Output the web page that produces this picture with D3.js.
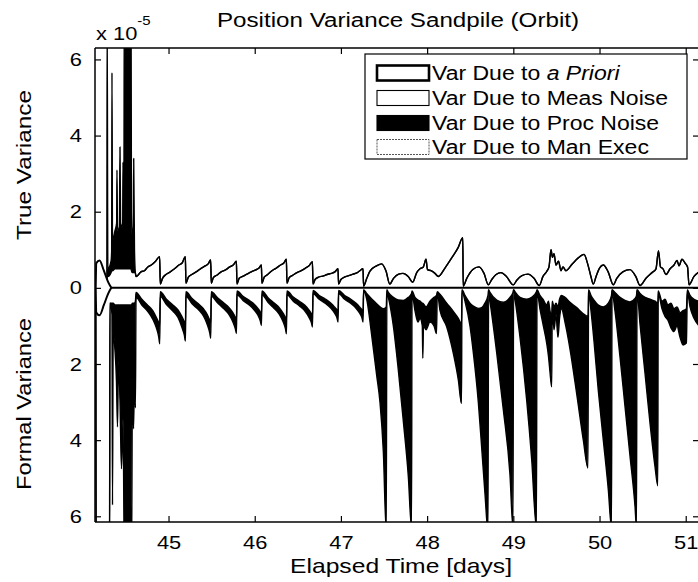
<!DOCTYPE html>
<html>
<head>
<meta charset="utf-8">
<script src="https://cdn.jsdelivr.net/npm/d3@7"></script>
<style>
  body { margin: 0; background: #fff; }
  svg { display: block; }
  text { font-family: "Liberation Sans", Arial, Helvetica, sans-serif; fill: #000; }
</style>
</head>
<body>
<div id="chart"></div>
<script>
// Position variance sandpile: true variance drawn up, formal variance drawn down (units of 1e-5)

const xTicks = [45, 46, 47, 48, 49, 50, 51];
const yTicks = [-6, -4, -2, 0, 2, 4, 6];
const legendLabels = ['Var Due to |a Priori|', 'Var Due to Meas Noise', 'Var Due to Proc Noise', 'Var Due to Man Exec'];

// a priori variance (same on both sides)
const aprioriTime = [44.155, 44.162, 44.200, 44.250, 44.300, 44.336];
const aprioriVar  = [0, 0.65, 0.72, 0.45, 0.15, 0];

// true variance, first half-day (proc noise spikes)
const trueEarlyTime = [44.150, 44.284, 44.288, 44.296, 44.333, 44.340, 44.344, 44.350, 44.379, 44.398, 44.402, 44.408, 44.430, 44.437, 44.444, 44.468, 44.472, 44.478, 44.483, 44.486, 44.565, 44.570, 44.578, 44.592, 44.596, 44.605, 44.615];
const trueEarlyMeas = [0, 0.05, 0.3, 0.3, 0.4, 0.45, 0.45, 0.45, 0.5, 0.5, 0.5, 0.5, 0.5, 0.5, 0.5, 0.5, 0.5, 0.5, 0.5, 0.5, 0.5, 0.45, 0.4, 0.4, 0.4, 0.4, 0.4];
const trueEarlyProc = [0, 0, 7, 0.2, 0.3, 0.5, 5.2, 0.8, 1.0, 1.2, 2.6, 1.0, 1.1, 3.2, 1.2, 1.1, 2.8, 1.2, 1.5, 7, 7, 1.5, 1.0, 1.2, 3.0, 0.6, 0];

// true variance, rest of the arc (meas noise outline)
const trueTime = [
  44.623, 44.640, 44.680, 44.720, 44.760, 44.800, 44.850, 44.897,
  44.904, 44.930, 44.970, 45.020, 45.070, 45.120, 45.160, 45.195,
  45.202, 45.230, 45.270, 45.320, 45.370, 45.420, 45.460, 45.489,
  45.496, 45.520, 45.560, 45.610, 45.660, 45.710, 45.750, 45.787,
  45.794, 45.820, 45.860, 45.910, 45.960, 46.010, 46.050, 46.077,
  46.084, 46.110, 46.150, 46.200, 46.250, 46.300, 46.340, 46.367,
  46.374, 46.400, 46.440, 46.490, 46.540, 46.590, 46.630, 46.669,
  46.676, 46.700, 46.740, 46.790, 46.840, 46.890, 46.930, 46.966,
  46.973, 47.000, 47.040, 47.090, 47.140, 47.190, 47.220, 47.256,
  47.263, 47.300, 47.337, 47.415, 47.473, 47.523, 47.567,
  47.610, 47.670, 47.720, 47.780, 47.833,
  47.879, 47.917, 47.956, 47.987, 48.004, 48.045, 48.091, 48.130, 48.207, 48.289, 48.358, 48.414,
  48.418, 48.460, 48.530, 48.602, 48.660, 48.710,
  48.750, 48.800, 48.857, 48.920, 49.000,
  49.040, 49.100, 49.170, 49.240, 49.301,
  49.344, 49.387, 49.414, 49.437, 49.454, 49.472, 49.495, 49.524, 49.553, 49.576, 49.611, 49.681, 49.750, 49.820, 49.860, 49.900, 49.928,
  49.960, 50.000, 50.044, 50.100, 50.160,
  50.200, 50.270, 50.353, 50.420, 50.470,
  50.539, 50.609, 50.655, 50.684, 50.707, 50.736, 50.771, 50.818, 50.864, 50.899, 50.922, 50.957, 50.992, 51.021, 51.038, 51.096, 51.154
];
const trueMeas = [
  0.30, 0.32, 0.42, 0.45, 0.55, 0.60, 0.70, 0.82,
  0.10, 0.25, 0.35, 0.42, 0.50, 0.60, 0.66, 0.82,
  0.12, 0.28, 0.35, 0.42, 0.50, 0.57, 0.63, 0.73,
  0.12, 0.27, 0.33, 0.42, 0.47, 0.55, 0.60, 0.70,
  0.10, 0.25, 0.30, 0.36, 0.42, 0.47, 0.52, 0.60,
  0.12, 0.28, 0.35, 0.45, 0.52, 0.60, 0.66, 0.75,
  0.12, 0.27, 0.33, 0.40, 0.45, 0.52, 0.58, 0.69,
  0.10, 0.22, 0.28, 0.31, 0.35, 0.38, 0.42, 0.50,
  0.10, 0.22, 0.28, 0.32, 0.36, 0.40, 0.45, 0.50,
  0.05, 0.25, 0.44, 0.58, 0.63, 0.44, 0.10,
  0.25, 0.36, 0.38, 0.30, 0.15,
  0.40, 0.50, 0.55, 0.75, 0.48, 0.45, 0.38, 0.30, 0.52, 0.80, 1.05, 1.32,
  0.05, 0.25, 0.48, 0.55, 0.38, 0.08,
  0.22, 0.35, 0.40, 0.30, 0.08,
  0.20, 0.32, 0.36, 0.25, 0.06,
  0.30, 0.43, 0.55, 1.00, 0.80, 0.90, 0.60, 0.70, 0.45, 0.55, 0.45, 0.62, 0.78, 0.88, 0.65, 0.30, 0.10,
  0.30, 0.52, 0.60, 0.42, 0.08,
  0.25, 0.42, 0.48, 0.30, 0.06,
  0.25, 0.40, 0.50, 0.97, 0.55, 0.50, 0.35, 0.50, 0.60, 0.72, 0.58, 0.75, 0.65, 0.55, 0.08, 0.30, 0.42
];

// formal variance: meas noise layer and proc noise layer on the same time grid
const formalTime = [
  44.150, 44.156, 44.160, 44.316, 44.320, 44.333, 44.344, 44.350, 44.358, 44.379, 44.396, 44.408, 44.420, 44.437, 44.454, 44.472, 44.489, 44.570, 44.582, 44.594, 44.605, 44.616,
  44.623, 44.690, 44.760, 44.817, 44.859, 44.887, 44.898,
  44.904, 44.976, 45.050, 45.110, 45.154, 45.184, 45.196,
  45.202, 45.273, 45.346, 45.405, 45.449, 45.478, 45.490,
  45.496, 45.568, 45.642, 45.702, 45.746, 45.776, 45.788,
  45.794, 45.864, 45.936, 45.994, 46.037, 46.066, 46.078,
  46.084, 46.154, 46.226, 46.284, 46.327, 46.356, 46.368,
  46.374, 46.447, 46.522, 46.582, 46.628, 46.658, 46.670,
  46.676, 46.748, 46.822, 46.881, 46.925, 46.955, 46.967,
  46.973, 47.043, 47.115, 47.173, 47.216, 47.245, 47.257,
  47.263, 47.299, 47.360, 47.415, 47.453, 47.492, 47.526,
  47.533, 47.550, 47.608, 47.666, 47.724, 47.782, 47.819,
  47.825, 47.859, 47.894, 47.917, 47.944, 47.950, 47.958, 47.987, 48.033, 48.080, 48.109, 48.118, 48.149, 48.227, 48.304, 48.362, 48.399,
  48.404, 48.439, 48.497, 48.536, 48.594, 48.633, 48.671, 48.706,
  48.713, 48.729, 48.807, 48.884, 48.961, 48.996,
  49.003, 49.019, 49.077, 49.155, 49.213, 49.268,
  49.275, 49.309, 49.344, 49.387, 49.408, 49.425, 49.445,
  49.452, 49.472, 49.495, 49.518, 49.536, 49.559, 49.599, 49.657, 49.735, 49.812, 49.866,
  49.873, 49.901, 49.936, 49.986, 50.044, 50.102, 50.139,
  50.145, 50.179, 50.237, 50.295, 50.353, 50.412, 50.429,
  50.435, 50.470, 50.528, 50.586, 50.644, 50.676,
  50.681, 50.725, 50.760, 50.794, 50.829, 50.864, 50.899, 50.934, 50.969, 51.008,
  51.019, 51.050, 51.096, 51.154
];
const formalMeas = [
  0, 0.6, 7, 7, 0.4, 0.4, 0.4, 0.4, 0.4, 0.45, 0.45, 0.45, 0.45, 0.45, 0.45, 0.45, 0.45, 0.45, 0.4, 0.4, 0.4, 0.35,
  0.12, 0.30, 0.46, 0.60, 0.78, 0.92, 1.00,
  0.10, 0.30, 0.45, 0.58, 0.75, 0.90, 0.97,
  0.10, 0.28, 0.42, 0.55, 0.70, 0.85, 0.92,
  0.10, 0.26, 0.40, 0.52, 0.65, 0.78, 0.85,
  0.08, 0.22, 0.33, 0.43, 0.54, 0.64, 0.70,
  0.08, 0.26, 0.40, 0.52, 0.66, 0.78, 0.86,
  0.08, 0.24, 0.36, 0.46, 0.58, 0.68, 0.74,
  0.07, 0.20, 0.30, 0.40, 0.50, 0.58, 0.64,
  0.07, 0.20, 0.30, 0.40, 0.50, 0.58, 0.64,
  0.05, 0.15, 0.30, 0.42, 0.50, 0.55, 0.50,
  0.05, 0.12, 0.25, 0.32, 0.33, 0.25, 0.15,
  0.08, 0.25, 0.32, 0.35, 0.40, 0.40, 0.42, 0.50, 0.35, 0.25, 0.20, 0.10, 0.17, 0.40, 0.62, 0.80, 0.95,
  0.05, 0.20, 0.40, 0.48, 0.54, 0.52, 0.40, 0.20,
  0.05, 0.12, 0.32, 0.38, 0.25, 0.12,
  0.05, 0.10, 0.25, 0.30, 0.25, 0.10,
  0.05, 0.20, 0.30, 0.45, 0.35, 0.60, 0.75,
  0.35, 0.50, 0.40, 0.50, 0.30, 0.20, 0.25, 0.38, 0.52, 0.68, 0.75,
  0.05, 0.20, 0.32, 0.45, 0.50, 0.40, 0.20,
  0.05, 0.12, 0.25, 0.33, 0.37, 0.28, 0.20,
  0.05, 0.15, 0.25, 0.30, 0.35, 0.40,
  0.08, 0.35, 0.30, 0.45, 0.40, 0.55, 0.50, 0.65, 0.60, 0.55,
  0.05, 0.20, 0.30, 0.35
];
const formalProc = [
  0, 0, 0, 0, 0, 0.1, 0.3, 5.3, 0.8, 1.2, 2.0, 3.2, 1.5, 2.5, 4.3, 3.0, 7, 7, 2.0, 3.3, 2.0, 2.8,
  0.13, 0.15, 0.16, 0.22, 0.27, 0.38, 0.47,
  0.12, 0.14, 0.16, 0.20, 0.28, 0.35, 0.43,
  0.12, 0.14, 0.15, 0.19, 0.26, 0.33, 0.40,
  0.12, 0.13, 0.15, 0.18, 0.24, 0.30, 0.35,
  0.10, 0.11, 0.12, 0.15, 0.18, 0.24, 0.29,
  0.10, 0.12, 0.14, 0.17, 0.22, 0.29, 0.35,
  0.10, 0.11, 0.12, 0.15, 0.19, 0.24, 0.29,
  0.08, 0.10, 0.11, 0.13, 0.16, 0.21, 0.26,
  0.08, 0.10, 0.11, 0.13, 0.16, 0.21, 0.26,
  0.03, 0.15, 1.00, 1.88, 2.50, 3.75, 5.90,
  0.05, 0.13, 0.75, 1.84, 3.17, 4.71, 6.15,
  0.07, 0.35, 0.58, 0.45, 0.60, 1.45, 0.58, 0.60, 0.55, 0.75, 1.00, 0.02, 0.42, 0.62, 1.10, 1.62, 2.09,
  0.03, 0.15, 0.60, 1.22, 2.46, 3.68, 5.00, 6.20,
  0.05, 0.23, 1.38, 2.82, 4.65, 6.18,
  0.05, 0.20, 1.04, 2.65, 4.25, 6.20,
  0.05, 0.35, 0.65, 1.00, 1.45, 1.60, 1.85,
  0.15, 0.60, 0.30, 0.80, 0.50, 0.35, 0.65, 1.22, 2.26, 3.32, 3.98,
  0.05, 0.40, 1.08, 2.25, 3.50, 4.90, 6.10,
  0.05, 0.48, 1.55, 2.77, 4.03, 5.47, 6.10,
  0.05, 0.81, 2.00, 3.26, 4.35, 4.80,
  0.07, 0.20, 0.45, 0.40, 0.65, 0.60, 0.50, 0.65, 0.90, 0.90,
  0.05, 0.30, 0.50, 0.65
];

const W = 698, H = 582;
const m = { left: 95, right: 699, top: 48, bottom: 522 };

const x = d3.scaleLinear().domain([44.147, 51.154]).range([m.left, m.right]);
const y = d3.scaleLinear().domain([-6.15, 6.3]).range([m.bottom, m.top]);

const svg = d3.select('#chart').append('svg').attr('width', W).attr('height', H);

svg.append('clipPath').attr('id', 'plotClip')
  .append('rect').attr('x', m.left).attr('y', m.top)
  .attr('width', m.right - m.left).attr('height', m.bottom - m.top);

const plotG = svg.append('g').attr('clip-path', 'url(#plotClip)');

// rows for the stacks
const trueRows = trueEarlyTime.map((t, i) => ({ t, meas: trueEarlyMeas[i], proc: trueEarlyProc[i] }))
  .concat(trueTime.map((t, i) => ({ t, meas: trueMeas[i], proc: 0 })));
const formalRows = formalTime.map((t, i) => ({ t, meas: formalMeas[i], proc: formalProc[i] }));

const stack = d3.stack().keys(['meas', 'proc']);

function drawPile(rows, sign) {
  const layers = stack(rows);
  const g = plotG.append('g');
  const area = d3.area().curve(d3.curveMonotoneX)
    .x(d => x(d.data.t))
    .y0(d => y(sign * d[0]))
    .y1(d => y(sign * d[1]));
  const line = d3.line().curve(d3.curveMonotoneX)
    .x(d => x(d.data.t))
    .y(d => y(sign * d[1]));

  // proc noise is the black layer
  g.append('path').datum(layers[1]).attr('d', area).attr('fill', '#000');
  layers.forEach(L => {
    g.append('path').datum(L).attr('d', line)
      .attr('fill', 'none').attr('stroke', '#000')
      .attr('stroke-width', 1.4).attr('stroke-linejoin', 'round');
  });
}

drawPile(trueRows, 1);
drawPile(formalRows, -1);

// zero line
plotG.append('line')
  .attr('x1', m.left).attr('x2', m.right)
  .attr('y1', y(0)).attr('y2', y(0))
  .attr('stroke', '#000').attr('stroke-width', 2);

// a priori wedge, mirrored
const apRows = aprioriTime.map((t, i) => ({ t, v: aprioriVar[i] }));
plotG.append('path').datum(apRows)
  .attr('d', d3.area().curve(d3.curveMonotoneX).x(d => x(d.t)).y0(d => y(-d.v)).y1(d => y(d.v)))
  .attr('fill', '#fff').attr('stroke', '#000').attr('stroke-width', 2);

// frame
const frame = svg.append('g').attr('stroke', '#000').attr('stroke-width', 1.5).attr('fill', 'none');
frame.append('line').attr('x1', m.left).attr('x2', m.right).attr('y1', m.top).attr('y2', m.top);
frame.append('line').attr('x1', m.left).attr('x2', m.right).attr('y1', m.bottom).attr('y2', m.bottom);
frame.append('line').attr('x1', m.left).attr('x2', m.left).attr('y1', m.top).attr('y2', m.bottom);
frame.append('line').attr('x1', m.right).attr('x2', m.right).attr('y1', m.top).attr('y2', m.bottom);

// axes (ticks inside, MATLAB style)
const fmtAbs = d => Math.abs(d);
svg.append('g').attr('transform', `translate(0,${m.bottom})`)
  .call(d3.axisBottom(x).tickValues(xTicks).tickFormat(d3.format('d')).tickSizeInner(-6).tickSizeOuter(0).tickPadding(14))
  .call(g => g.select('.domain').remove())
  .call(g => g.selectAll('.tick text').attr('class', 'st').attr('font-size', 19).attr('font-family', null));
svg.append('g').attr('transform', `translate(0,${m.top})`)
  .call(d3.axisTop(x).tickValues(xTicks).tickSizeInner(-6).tickSizeOuter(0).tickFormat(''))
  .call(g => g.select('.domain').remove());
svg.append('g').attr('transform', `translate(${m.left},0)`)
  .call(d3.axisLeft(y).tickValues(yTicks).tickFormat(fmtAbs).tickSizeInner(-6).tickSizeOuter(0).tickPadding(13))
  .call(g => g.select('.domain').remove())
  .call(g => g.selectAll('.tick text').attr('class', 'st').attr('font-size', 19).attr('font-family', null));
svg.append('g').attr('transform', `translate(${m.right},0)`)
  .call(d3.axisRight(y).tickValues(yTicks).tickSizeInner(-6).tickSizeOuter(0).tickFormat(''))
  .call(g => g.select('.domain').remove());
svg.selectAll('.tick line').attr('stroke', '#000').attr('stroke-width', 1.2);
svg.selectAll('.tick text').attr('fill', '#000');

// titles
svg.append('text').attr('x', 398).attr('y', 27)
  .attr('text-anchor', 'middle').attr('font-size', 20)
  .attr('textLength', 362).attr('lengthAdjust', 'spacingAndGlyphs')
  .text('Position Variance Sandpile (Orbit)');
svg.append('text').attr('x', 401).attr('y', 573)
  .attr('text-anchor', 'middle').attr('font-size', 21)
  .attr('textLength', 222).attr('lengthAdjust', 'spacingAndGlyphs')
  .text('Elapsed Time [days]');
svg.append('text').attr('transform', 'translate(31,165) rotate(-90)')
  .attr('text-anchor', 'middle').attr('font-size', 21)
  .attr('textLength', 150).attr('lengthAdjust', 'spacingAndGlyphs')
  .text('True Variance');
svg.append('text').attr('transform', 'translate(31,404) rotate(-90)')
  .attr('text-anchor', 'middle').attr('font-size', 21)
  .attr('textLength', 172).attr('lengthAdjust', 'spacingAndGlyphs')
  .text('Formal Variance');

// exponent
const ex = svg.append('text').attr('class', 'st').attr('x', 96).attr('y', 40).attr('font-size', 19);
ex.append('tspan').text('x 10');
ex.append('tspan').attr('font-size', 13).attr('dy', -15).text('-5');

// legend
const lg = svg.append('g');
lg.append('rect').attr('x', 365).attr('y', 54).attr('width', 322).attr('height', 105)
  .attr('fill', '#fff').attr('stroke', '#000').attr('stroke-width', 1.2);
const rowY = [73, 98, 123, 147];
const sampleStyle = [
  { fill: '#fff', stroke: '#000', sw: 2.6, dash: null },
  { fill: '#fff', stroke: '#000', sw: 1.1, dash: null },
  { fill: '#000', stroke: '#000', sw: 1.1, dash: null },
  { fill: '#fff', stroke: '#555', sw: 1, dash: '2,1' }
];
legendLabels.forEach((lab, i) => {
  const s = sampleStyle[i];
  lg.append('rect').attr('x', 377).attr('y', rowY[i] - 7.5).attr('width', 52).attr('height', 15)
    .attr('fill', s.fill).attr('stroke', s.stroke).attr('stroke-width', s.sw)
    .attr('stroke-dasharray', s.dash);
  const t = lg.append('text').attr('class', 'st').attr('x', 432).attr('y', rowY[i] + 7).attr('font-size', 20);
  lab.split('|').forEach((part, k) => {
    if (part) t.append('tspan').attr('font-style', k === 1 ? 'italic' : null).text(part);
  });
});

// the scan is wider than tall: stretch horizontal text a bit
svg.selectAll('text.st').each(function () {
  const L = this.getComputedTextLength();
  d3.select(this).attr('textLength', L * 1.15).attr('lengthAdjust', 'spacingAndGlyphs');
});
</script>
</body>
</html>
